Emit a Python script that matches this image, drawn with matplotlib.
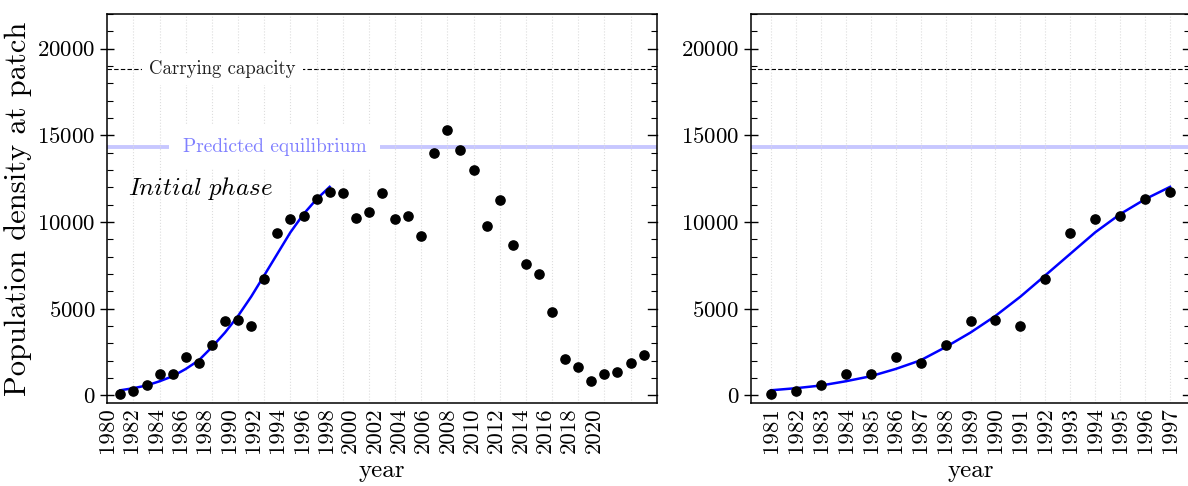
import numpy as np
import matplotlib
matplotlib.use("Agg")
import matplotlib.pyplot as plt
from matplotlib.ticker import MultipleLocator

# fonte tipo LaTeX (Computer Modern)
plt.rcParams["font.family"] = ["cmr10", "DejaVu Serif"]
plt.rcParams["mathtext.fontset"] = "cm"
plt.rcParams["axes.formatter.use_mathtext"] = True
plt.rcParams["axes.unicode_minus"] = False

# dados observados (densidade por ano)
anos = list(range(1981, 2022))
densidade = [60, 250, 580, 1220, 1240, 2220, 1900, 2890, 4290, 4330,
             4000, 6720, 9390, 10150, 10340, 11340, 11720, 11700, 10210, 10560,
             11700, 10150, 10360, 9200, 13980, 15330, 14180, 13030, 9770, 11280,
             8700, 7590, 7010, 4810, 2110, 1630, 820, 1250, 1360, 1860,
             2340]

# curva ajustada na fase inicial (1981-1997)
anos_fit = list(range(1981, 1998))
curva_fit = [300, 420, 575, 820, 1110, 1530, 2030, 2790, 3630, 4590,
             5700, 6930, 8170, 9410, 10460, 11320, 12030]

capacidade = 18800
equilibrio = 14350

rotulos_esq = [str(a) for a in range(1980, 2021, 2)]
rotulos_dir = [str(a) for a in anos_fit]

fig = plt.figure(figsize=(11.88, 4.86), dpi=100)
ax1 = fig.add_axes([0.0903, 0.1702, 0.4625, 0.801])
ax2 = fig.add_axes([0.6322, 0.1702, 0.3695, 0.801])


def estilo_eixo_y(ax):
    ax.set_ylim(-450, 22000)
    ax.yaxis.set_major_locator(MultipleLocator(5000))
    ax.yaxis.set_minor_locator(MultipleLocator(1000))
    ax.tick_params(axis="y", which="major", direction="inout", length=10,
                   width=1, left=True, right=False, labelsize=16.5)
    ax.tick_params(axis="y", which="minor", direction="in", length=4,
                   width=0.8, left=True, right=True)
    # tracinhos maiores do lado direito, so pra dentro
    for y in range(0, 20001, 5000):
        ax.plot([1, 0.985], [y, y], transform=ax.get_yaxis_transform(),
                color="black", lw=1, clip_on=False, zorder=5)
    for s in ax.spines.values():
        s.set_linewidth(1.1)


# painel esquerdo - serie completa
ax1.axhline(capacidade, color="black", lw=0.8, ls="--", dashes=(4, 2), zorder=1)
ax1.axhline(equilibrio, color="blue", lw=2.8, alpha=0.22, zorder=1)
ax1.text(1988.8, capacidade, "Carrying capacity", fontsize=13.5, color="#222222",
         ha="center", va="center",
         bbox=dict(facecolor="white", edgecolor="none", pad=5), zorder=2)
ax1.text(1992.8, equilibrio, "Predicted equilibrium", fontsize=14,
         color=(0.5, 0.5, 1.0), ha="center", va="center",
         bbox=dict(facecolor="white", edgecolor="none", pad=10), zorder=2)
ax1.scatter(anos, densidade, s=44, color="black", zorder=4)
ax1.plot(anos_fit, curva_fit, color="blue", lw=1.8, zorder=3)
ax1.text(1981.6, 11950, r"$\mathit{Initial\ phase}$", fontsize=18,
         ha="left", va="center")

ax1.set_xlim(1980, 2022)
ax1.set_xticks(np.linspace(1980, 2017.2, len(rotulos_esq)))
ax1.set_xticklabels(rotulos_esq, rotation=90)
ax1.set_xticks(np.arange(1980, 2023, 2), minor=True)
ax1.tick_params(axis="x", which="both", length=0, labelsize=16.5, pad=3)
ax1.grid(True, axis="x", which="minor", ls=":", color="#dddddd", lw=0.8)
estilo_eixo_y(ax1)
ax1.set_xlabel("year", fontsize=18, labelpad=5)
ax1.set_ylabel("Population density at patch", fontsize=22, labelpad=4)

# painel direito - zoom na fase inicial
ax2.axhline(capacidade, color="black", lw=0.8, ls="--", dashes=(4, 2), zorder=1)
ax2.axhline(equilibrio, color="blue", lw=2.8, alpha=0.22, zorder=1)
ax2.scatter(anos_fit, densidade[:len(anos_fit)], s=44, color="black", zorder=4)
ax2.plot(anos_fit, curva_fit, color="blue", lw=1.8, zorder=3)
ax2.set_xlim(1980.2, 1997.8)
ax2.set_xticks(anos_fit)
ax2.set_xticklabels(rotulos_dir, rotation=90)
ax2.tick_params(axis="x", which="both", length=0, labelsize=16.5, pad=3)
ax2.grid(True, axis="x", which="major", ls=":", color="#dddddd", lw=0.8)
estilo_eixo_y(ax2)
ax2.set_xlabel("year", fontsize=18, labelpad=5)

plt.savefig("out.png", dpi=100)
